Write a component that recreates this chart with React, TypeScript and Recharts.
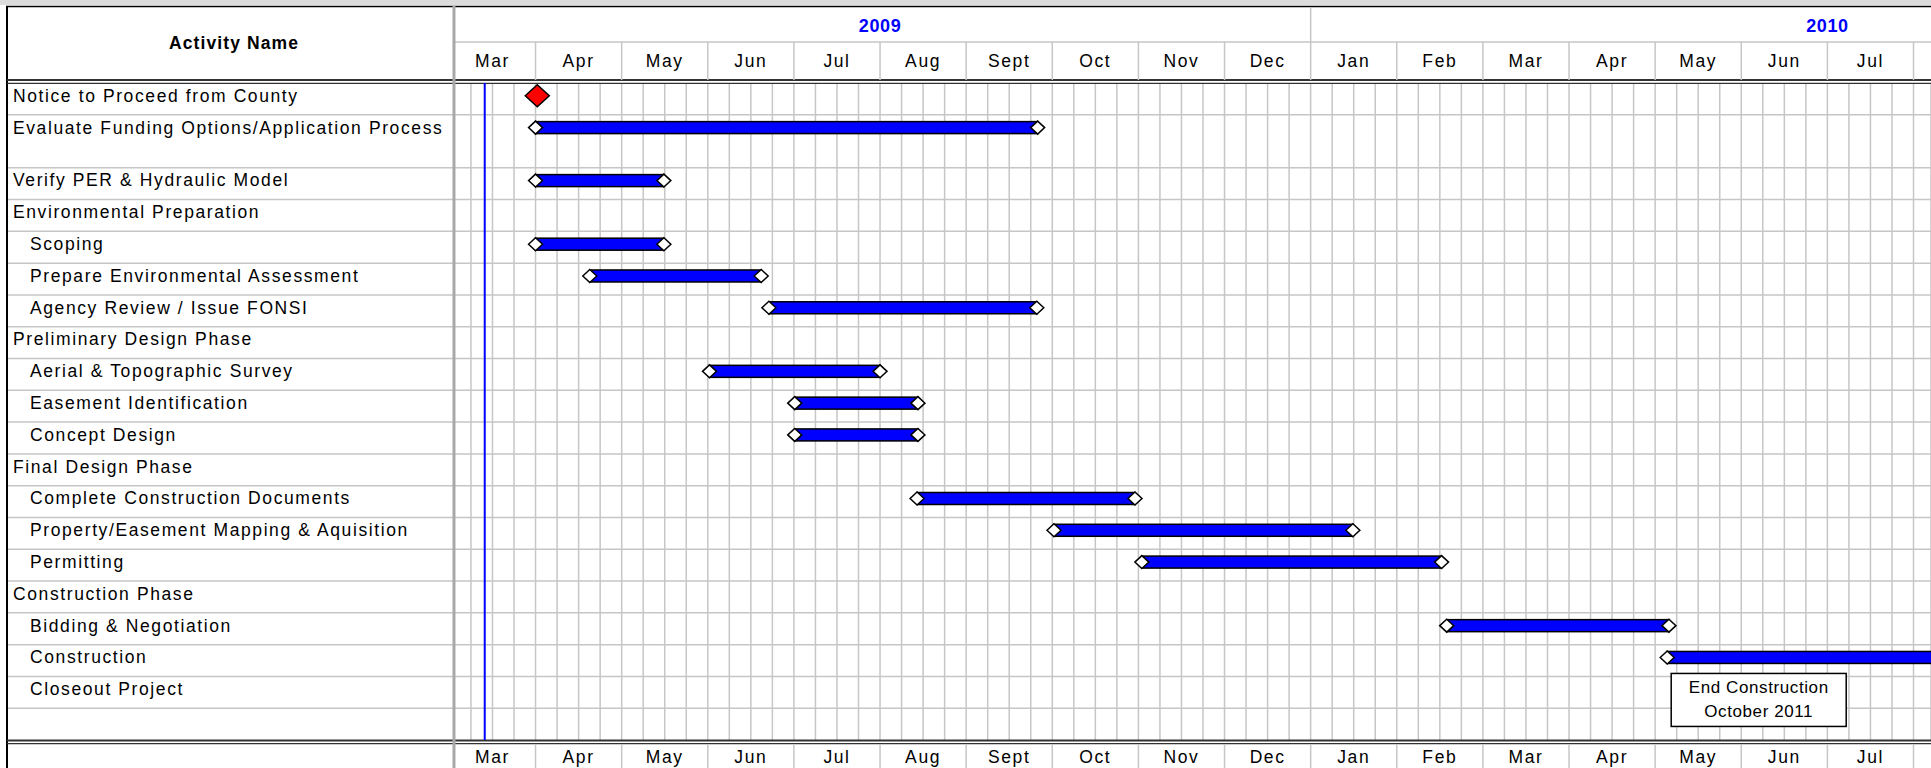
import { ComposedChart, Bar, Scatter, XAxis, YAxis, CartesianGrid, ReferenceLine, Customized } from 'recharts';

// Time is counted in months from 1 Mar 2009 (0 = 1 Mar 2009, 10 = 1 Jan 2010)
const activityNames = [
  'Notice to Proceed from County',
  'Evaluate Funding Options/Application Process',
  'Verify PER & Hydraulic Model',
  'Environmental Preparation',
  'Scoping',
  'Prepare Environmental Assessment',
  'Agency Review / Issue FONSI',
  'Preliminary Design Phase',
  'Aerial & Topographic Survey',
  'Easement Identification',
  'Concept Design',
  'Final Design Phase',
  'Complete Construction Documents',
  'Property/Easement Mapping & Aquisition',
  'Permitting',
  'Construction Phase',
  'Bidding & Negotiation',
  'Construction',
  'Closeout Project',
];
const activityLevels = [0, 0, 0, 0, 1, 1, 1, 0, 1, 1, 1, 0, 1, 1, 1, 0, 1, 1, 1];
const taskStarts = [null, 1.0, 1.0, null, 1.0, 1.63, 3.71, null, 3.02, 4.01, 4.01, null, 5.43, 7.02, 8.04, null, 11.58, 14.14, null];
const taskEnds = [null, 6.83, 2.49, null, 2.49, 3.62, 6.82, null, 5.0, 5.44, 5.44, null, 7.96, 10.49, 11.52, null, 14.16, 32, null];
const milestoneRows = [0];
const milestoneDates = [1.02];
const monthLabels = ['Mar', 'Apr', 'May', 'Jun', 'Jul', 'Aug', 'Sept', 'Oct', 'Nov', 'Dec', 'Jan', 'Feb', 'Mar', 'Apr', 'May', 'Jun', 'Jul'];
const yearLabels = ['2009', '2010'];
const yearStarts = [0, 10];
const yearEnds = [10, 22];
const statusDate = 0.41;
const noteRow = 17;
const noteLines = ['End Construction', 'October 2011'];

const W = 1931;
const H = 768;
const FONT = '"Liberation Sans", Arial, Helvetica, sans-serif';
const GRID = '#c6c6c6';
const TALL_ROW = 1; // this row is taller in the original sheet
const TALL_EXTRA = 2 / 3;
const ROWS_END = activityNames.length + TALL_EXTRA + 1; // one blank row at the bottom
const X_DOMAIN: [number, number] = [-5.137, 17.203];
const TIMELINE_START = 0.053;

const rowTop = (i: number) => i + (i > TALL_ROW ? TALL_EXTRA : 0);
const rowCenter = (i: number) => rowTop(i) + 0.4;

const data = activityNames.map((name, i) => ({
  name,
  row: rowCenter(i),
  span: taskStarts[i] != null ? [taskStarts[i], taskEnds[i]] : null,
  note: i === noteRow ? noteLines : null,
}));
const milestones = milestoneRows.map((r, k) => ({ name: activityNames[r], row: rowCenter(r), date: milestoneDates[k] }));

const labelTicks = data.map((d) => d.row);
const rowLines = activityNames.map((_, i) => rowTop(i + 1));
const quarterTicks = Array.from({ length: 68 }, (_, q) => (q + 1) / 4);
const halfTicks = Array.from({ length: 34 }, (_, k) => (k + 1) / 2);
const yearCenters = yearStarts.map((s, i) => (s + yearEnds[i]) / 2);
const topTicks = [TIMELINE_START, ...halfTicks];

const textStyle = { fontFamily: FONT, fontSize: 17.5, letterSpacing: 1.6, fill: '#000' };

const TopTick = (props: any) => {
  const { x, payload } = props;
  const v = payload.value;
  if (v === TIMELINE_START) {
    return <line x1={x} x2={x} y1={6} y2={H} stroke="#a8a8a8" strokeWidth={3} />;
  }
  const yi = yearCenters.indexOf(v);
  const year =
    yi >= 0 ? (
      <text x={x} y={31.5} textAnchor="middle" fontFamily={FONT} fontSize={18} fontWeight="bold" letterSpacing={0.6} fill="#0000ff">
        {yearLabels[yi]}
      </text>
    ) : null;
  if (Number.isInteger(v)) {
    return (
      <g>
        <line x1={x} x2={x} y1={yearStarts.includes(v) ? 7 : 42} y2={80} stroke={GRID} strokeWidth={1.5} />
        {year}
      </g>
    );
  }
  return (
    <g>
      <text x={x} y={67} textAnchor="middle" {...textStyle}>
        {monthLabels[Math.floor(v)]}
      </text>
      {year}
    </g>
  );
};

const BottomTick = (props: any) => {
  const { x, payload } = props;
  const v = payload.value;
  if (Number.isInteger(v)) {
    return <line x1={x} x2={x} y1={744} y2={H} stroke={GRID} strokeWidth={1.5} />;
  }
  return (
    <text x={x} y={763} textAnchor="middle" {...textStyle}>
      {monthLabels[Math.floor(v)]}
    </text>
  );
};

const NameTick = (props: any) => {
  const { y, payload } = props;
  const i = labelTicks.indexOf(payload.value);
  if (i < 0) return null;
  return (
    <text x={activityLevels[i] ? 30 : 13} y={y + 6} {...textStyle}>
      {activityNames[i]}
    </text>
  );
};

const Diamond = ({ cx, cy, rx, ry, fill }: any) => (
  <polygon
    points={`${cx - rx},${cy} ${cx},${cy - ry} ${cx + rx},${cy} ${cx},${cy + ry}`}
    fill={fill}
    stroke="#000"
    strokeWidth={1.5}
  />
);

const TaskBar = (props: any) => {
  const { x, y, width, height, payload } = props;
  if (!payload || !payload.span || !Number.isFinite(width)) return null;
  const cy = y + height / 2;
  const note = payload.note as string[] | null;
  return (
    <g>
      <rect x={x} y={y} width={width} height={height} fill="#0000ff" stroke="#000" strokeWidth={1.5} />
      <Diamond cx={x} cy={cy} rx={7} ry={6.5} fill="#fff" />
      <Diamond cx={x + width} cy={cy} rx={7} ry={6.5} fill="#fff" />
      {note && (
        <g>
          <rect x={x + 4} y={y + height + 10} width={175} height={53} fill="#fff" stroke="#000" strokeWidth={1.5} />
          {note.map((line, k) => (
            <text key={k} x={x + 4 + 87.5} y={y + height + 30 + k * 24} textAnchor="middle" fontFamily={FONT} fontSize={17} letterSpacing={0.6} fill="#000">
              {line}
            </text>
          ))}
        </g>
      )}
    </g>
  );
};

const Milestone = (props: any) => <Diamond cx={props.cx} cy={props.cy} rx={12} ry={11} fill="#ff0000" />;

const Frame = () => (
  <g>
    <rect x={0} y={0} width={W} height={5} fill="#dcdcdc" />
    <line x1={6} x2={W} y1={6.5} y2={6.5} stroke="#000" strokeWidth={1.5} />
    <line x1={7} x2={7} y1={6} y2={H} stroke="#000" strokeWidth={2} />
    <line x1={455} x2={W} y1={42} y2={42} stroke={GRID} strokeWidth={1.5} />
    <line x1={7} x2={W} y1={80} y2={80} stroke="#333" strokeWidth={2} />
    <line x1={7} x2={W} y1={83.3} y2={83.3} stroke="#333" strokeWidth={1.2} />
    <line x1={7} x2={W} y1={740.5} y2={740.5} stroke="#333" strokeWidth={2} />
    <line x1={7} x2={W} y1={743.6} y2={743.6} stroke="#333" strokeWidth={1.2} />
    <text x={234} y={49} textAnchor="middle" fontFamily={FONT} fontSize={17.5} fontWeight="bold" letterSpacing={1.1} fill="#000">
      Activity Name
    </text>
  </g>
);

export default function App() {
  return (
    <div style={{ width: W, height: H, overflow: 'hidden', background: '#fff' }}>
      <style>{'body{margin:0}'}</style>
      <ComposedChart width={W} height={H} layout="vertical" data={data} margin={{ top: 6, right: 0, bottom: 0, left: 7 }}>
        <XAxis
          xAxisId="top"
          orientation="top"
          type="number"
          domain={X_DOMAIN}
          allowDataOverflow
          ticks={topTicks}
          interval={0}
          height={77}
          axisLine={false}
          tickLine={false}
          tick={<TopTick />}
        />
        <XAxis
          xAxisId="bottom"
          orientation="bottom"
          type="number"
          domain={X_DOMAIN}
          allowDataOverflow
          ticks={halfTicks}
          interval={0}
          height={28}
          axisLine={false}
          tickLine={false}
          tick={<BottomTick />}
        />
        <XAxis xAxisId="grid" type="number" domain={X_DOMAIN} allowDataOverflow ticks={quarterTicks} interval={0} hide />
        <YAxis
          yAxisId="labels"
          type="number"
          dataKey="row"
          domain={[0, ROWS_END]}
          allowDataOverflow
          ticks={labelTicks}
          interval={0}
          mirror
          axisLine={false}
          tickLine={false}
          tick={<NameTick />}
        />
        <CartesianGrid xAxisId="grid" yAxisId="labels" horizontalValues={rowLines} stroke={GRID} strokeWidth={1.5} />
        <ReferenceLine xAxisId="top" yAxisId="labels" x={statusDate} stroke="#0000ff" strokeWidth={2} />
        <Bar xAxisId="top" yAxisId="labels" dataKey="span" barSize={12} shape={<TaskBar />} isAnimationActive={false} />
        <Scatter xAxisId="top" yAxisId="labels" data={milestones} dataKey="date" shape={<Milestone />} isAnimationActive={false} />
        <Customized component={<Frame />} />
      </ComposedChart>
    </div>
  );
}
